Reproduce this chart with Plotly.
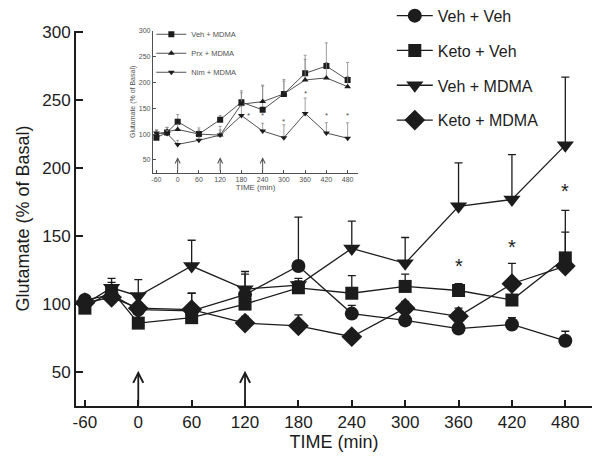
import plotly.graph_objects as go

# sampling times (min)
times = [-60, -30, 0, 60, 120, 180, 240, 300, 360, 420, 480]
tick_times = [-60, 0, 60, 120, 180, 240, 300, 360, 420, 480]
tick_labels = ["-60", "0", "60", "120", "180", "240", "300", "360", "420", "480"]
y_ticks = [50, 100, 150, 200, 250, 300]

# main panel: glutamate, % of basal (mean and upper SEM)
veh_veh = [103, 107, 96, 95, 107, 128, 93, 88, 82, 85, 73]
veh_veh_err = [3, 5, 4, 13, 15, 36, 6, 4, 4, 5, 7]
keto_veh = [97, 110, 86, 90, 100, 112, 108, 113, 110, 103, 134]
keto_veh_err = [4, 6, 4, 5, 6, 5, 13, 9, 5, 9, 35]
veh_mdma = [100, 112, 106, 128, 111, 114, 141, 130, 172, 177, 217]
veh_mdma_err = [3, 7, 12, 19, 13, 5, 20, 19, 32, 33, 50]
keto_mdma = [101, 105, 97, 96, 86, 84, 76, 97, 91, 115, 128]
keto_mdma_err = [3, 5, 4, 12, 5, 8, 4, 5, 6, 15, 25]

# significance marks on main panel (time, height)
star_times = [360, 420, 480]
star_heights = [128, 142, 183]
# injection arrows
arrow_times = [0, 120]

# inset panel
ins_veh_mdma = [93, 103, 124, 100, 128, 162, 147, 178, 218, 232, 205]
ins_veh_mdma_err = [14, 10, 14, 12, 8, 22, 48, 28, 35, 45, 34]
ins_prx_mdma = [100, 105, 109, 100, 98, 158, 163, 178, 205, 209, 192]
ins_prx_mdma_err = [8, 8, 10, 8, 10, 22, 30, 25, 40, 30, 20]
ins_nim_mdma = [102, 101, 80, 88, 98, 136, 106, 93, 140, 102, 92]
ins_nim_mdma_err = [6, 6, 8, 6, 17, 18, 15, 25, 30, 20, 30]
ins_star_times = [200, 240, 300, 360, 420, 480]
ins_star_heights = [137, 137, 124, 178, 137, 137]
ins_arrow_times = [0, 120, 240]

ink = "#1c1c1c"
grey = "#505050"
font = "Arial, Liberation Sans, sans-serif"

fig = go.Figure()

main = [
    ("Veh + Veh", veh_veh, veh_veh_err, "circle", 14),
    ("Keto + Veh", keto_veh, keto_veh_err, "square", 13),
    ("Veh + MDMA", veh_mdma, veh_mdma_err, "triangle-down", 15),
    ("Keto + MDMA", keto_mdma, keto_mdma_err, "diamond", 16),
]
for name, vals, err, sym, size in main:
    fig.add_trace(go.Scatter(
        x=times, y=vals, name=name, mode="lines+markers",
        line=dict(color=ink, width=1.3),
        marker=dict(symbol=sym, size=size, color=ink),
        error_y=dict(type="data", array=err, arrayminus=[0] * len(err),
                     symmetric=False, color=ink, thickness=1.3, width=4),
        legendgroup=name, legend="legend"))

inset = [
    ("Veh + MDMA", ins_veh_mdma, ins_veh_mdma_err, "square", 6),
    ("Prx + MDMA", ins_prx_mdma, ins_prx_mdma_err, "triangle-up", 6),
    ("Nim + MDMA", ins_nim_mdma, ins_nim_mdma_err, "triangle-down", 6),
]
for name, vals, err, sym, size in inset:
    fig.add_trace(go.Scatter(
        x=times, y=vals, name=name, mode="lines+markers",
        xaxis="x2", yaxis="y2",
        line=dict(color=grey, width=1),
        marker=dict(symbol=sym, size=size, color=ink),
        error_y=dict(type="data", array=err, arrayminus=[0] * len(err),
                     symmetric=False, color="#888", thickness=0.8, width=1.5),
        legend="legend2"))

annotations = []
for t in arrow_times:
    annotations.append(dict(x=t, y=51, ax=t, ay=25, xref="x", yref="y",
                            axref="x", ayref="y", text="", showarrow=True,
                            arrowhead=5, arrowsize=1.1, arrowwidth=1.8,
                            arrowcolor=ink))
for t, h in zip(star_times, star_heights):
    annotations.append(dict(x=t, y=h, xref="x", yref="y", text="*",
                            showarrow=False, font=dict(size=20, color=ink)))
for t in ins_arrow_times:
    annotations.append(dict(x=t, y=55, ax=t, ay=26, xref="x2", yref="y2",
                            axref="x2", ayref="y2", text="", showarrow=True,
                            arrowhead=5, arrowsize=1, arrowwidth=1,
                            arrowcolor=grey))
for t, h in zip(ins_star_times, ins_star_heights):
    annotations.append(dict(x=t, y=h, xref="x2", yref="y2", text="*",
                            showarrow=False, font=dict(size=8, color=grey)))

# page body keeps an 8px margin, so the figure is 8px smaller than the window
fig.update_layout(
    width=592, height=449,
    margin=dict(l=68, r=8, t=23, b=51, autoexpand=False),
    paper_bgcolor="white", plot_bgcolor="white",
    font=dict(family=font, color=ink),
    annotations=annotations,
    xaxis=dict(domain=[0, 1], range=[-70, 510], tickvals=tick_times,
               ticktext=tick_labels, automargin=False,
               ticks="inside", ticklen=6, tickwidth=2, tickcolor=ink,
               showline=True, linewidth=2, linecolor=ink,
               showgrid=False, zeroline=False,
               tickfont=dict(size=17),
               title=dict(text="TIME (min)", font=dict(size=18), standoff=4)),
    yaxis=dict(domain=[0, 1], range=[25, 301], tickvals=y_ticks,
               automargin=False,
               ticks="inside", ticklen=7, tickwidth=2, tickcolor=ink,
               showline=True, linewidth=2, linecolor=ink,
               showgrid=False, zeroline=False,
               tickfont=dict(size=17),
               title=dict(text="Glutamate (% of Basal)", font=dict(size=18),
                          standoff=8)),
    xaxis2=dict(domain=[0.149, 0.547], anchor="y2", range=[-70, 510],
                tickvals=tick_times, ticktext=tick_labels, automargin=False,
                ticks="inside", ticklen=3,
                tickcolor=grey, showline=True, linewidth=1, linecolor=grey,
                showgrid=False, zeroline=False,
                tickfont=dict(size=7, color=grey),
                title=dict(text="TIME (min)", font=dict(size=8, color=grey),
                           standoff=2)),
    yaxis2=dict(domain=[0.622, 1.0], anchor="x2", range=[25, 300],
                tickvals=y_ticks, automargin=False, ticks="inside", ticklen=3,
                tickcolor=grey, showline=True, linewidth=1, linecolor=grey,
                showgrid=False, zeroline=False,
                tickfont=dict(size=7, color=grey),
                title=dict(text="Glutamate (% of Basal)",
                           font=dict(size=7, color=grey), standoff=2)),
    legend=dict(x=0.612, y=1.086, xanchor="left", yanchor="top",
                bgcolor="rgba(0,0,0,0)", font=dict(size=16, color=ink),
                itemwidth=36, tracegroupgap=11),
    legend2=dict(x=0.146, y=1.03, xanchor="left", yanchor="top",
                 bgcolor="rgba(0,0,0,0)", font=dict(size=7.5, color=grey),
                 tracegroupgap=0),
)

fig.write_html("out.html")
